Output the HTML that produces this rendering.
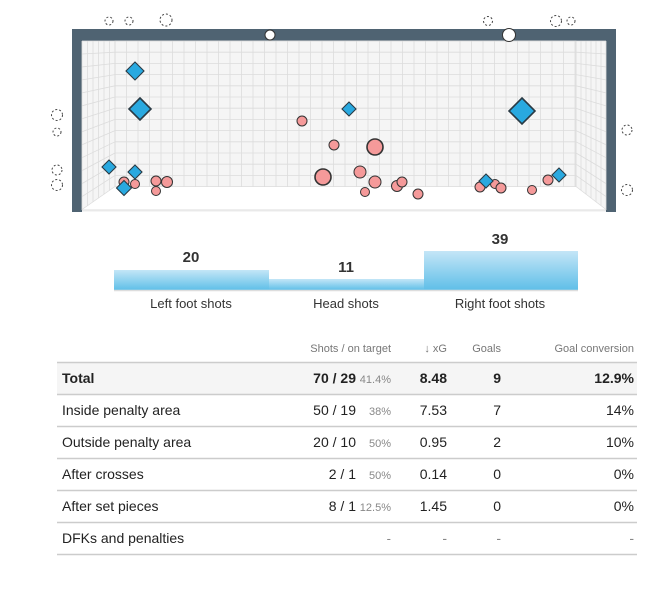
<!DOCTYPE html>
<html><head><meta charset="utf-8"><style>
html,body{margin:0;padding:0;background:#fff;width:670px;height:608px;overflow:hidden}
svg{display:block;font-family:"Liberation Sans",Arial,sans-serif}
</style></head><body>
<svg id="s" width="670" height="608" viewBox="0 0 670 608" xmlns="http://www.w3.org/2000/svg">
<defs>
<linearGradient id="bg" x1="0" y1="0" x2="0" y2="1">
<stop offset="0" stop-color="#c4e6f7"/><stop offset="1" stop-color="#5fbfe8"/>
</linearGradient>
</defs>
<!-- goal -->
<rect x="72" y="29" width="544" height="183" fill="#4f6372"/>
<rect x="82" y="41" width="524" height="171" fill="#f5f5f5"/>
<g id="grid" stroke="#dcdcdc" stroke-width="0.8" fill="none"></g>
<polygon points="115,187 576,187 606,210 82,210" fill="#fff"/>
<line x1="82" y1="210" x2="606" y2="210" stroke="#ddd" stroke-width="1"/>
<g id="marks"></g>
<!-- bars -->
<rect x="114" y="270" width="155" height="20" fill="url(#bg)"/>
<rect x="269" y="279" width="155" height="11" fill="url(#bg)"/>
<rect x="424" y="251" width="154" height="39" fill="url(#bg)"/>
<line x1="114" y1="290.5" x2="578" y2="290.5" stroke="#ddd" stroke-width="1.5"/>
<g font-size="15" font-weight="bold" fill="#333" text-anchor="middle">
<text x="191" y="262">20</text><text x="346" y="272">11</text><text x="500" y="244">39</text>
</g>
<g font-size="13" fill="#333" text-anchor="middle">
<text x="191" y="308">Left foot shots</text><text x="346" y="308">Head shots</text><text x="500" y="308">Right foot shots</text>
</g>
<!-- table -->
<rect x="57" y="363" width="580" height="31" fill="#f5f5f5"/>
<g font-size="11" fill="#777" text-anchor="end">
<text x="391" y="352">Shots / on target</text><text x="447" y="352">↓ xG</text><text x="501" y="352">Goals</text><text x="634" y="352">Goal conversion</text>
</g>
<g id="tbl"></g>
</svg>
<script>
const NS="http://www.w3.org/2000/svg";
function el(p,t,a,txt){const e=document.createElementNS(NS,t);for(const k in a)e.setAttribute(k,a[k]);if(txt!==undefined)e.textContent=txt;p.appendChild(e);return e;}
const g=document.getElementById('grid');
// back wall
for(let x=115;x<=576;x+=11.5)el(g,'line',{x1:x,y1:41,x2:x,y2:187});
for(let y=41;y<=187;y+=11.2)el(g,'line',{x1:115,y1:y,x2:576,y2:y});
el(g,'rect',{x:115,y:41,width:461,height:146});
// side walls
for(let i=0;i<=6;i++){const xl=82+i*33/6,xr=606-i*30/6;const yb=210-i*23/6;
el(g,'line',{x1:xl,y1:41,x2:xl,y2:yb});el(g,'line',{x1:xr,y1:41,x2:xr,y2:yb});}
for(let y=41;y<=187;y+=11.2){const f=(y-41)/146;el(g,'line',{x1:82,y1:y+f*23,x2:115,y2:y});el(g,'line',{x1:606,y1:y+f*23,x2:576,y2:y});}
const m=document.getElementById('marks');
// dashed misses
[[109,21,4],[129,21,4],[166,20,6],[488,21,4.5],[556,21,5.5],[571,21,4],[57,115,5.5],[57,132,4],[627,130,5],[57,170,5],[57,185,5.5],[627,190,5.5]].forEach(c=>el(m,'circle',{cx:c[0],cy:c[1],r:c[2],fill:'none',stroke:'#444','stroke-width':1,'stroke-dasharray':'2,2'}));
// post hits
el(m,'circle',{cx:270,cy:35,r:5,fill:'#fff',stroke:'#333','stroke-width':1});
el(m,'circle',{cx:509,cy:35,r:6.5,fill:'#fff',stroke:'#333','stroke-width':1});
// circles
[[302,121,5],[334,145,5],[375,147,8],[323,177,8],[360,172,6],[375,182,6],[365,192,4.5],[397,186,5.5],[402,182,5],[418,194,5],[124,182,5],[135,184,4.5],[156,181,5],[167,182,5.5],[156,191,4.5],[480,187,5],[495,184,4.5],[501,188,5],[532,190,4.5],[548,180,5]].forEach(c=>el(m,'circle',{cx:c[0],cy:c[1],r:c[2],fill:'#f59a9a',stroke:'#333','stroke-width':c[2]>7?1.6:1}));
// diamonds
[[135,71,9],[140,109,11],[349,109,7],[522,111,13],[109,167,7],[135,172,7],[124,188,7.5],[486,181,7],[559,175,7]].forEach(d=>{const [x,y,s]=d;el(m,'polygon',{points:`${x},${y-s} ${x+s},${y} ${x},${y+s} ${x-s},${y}`,fill:'#29a9e0',stroke:'#2a3a44','stroke-width':s>10?1.6:1.1});});
// table
const t=document.getElementById('tbl');
const rows=[["Total","70 / 29","41.4%","8.48","9","12.9%",1],["Inside penalty area","50 / 19","38%","7.53","7","14%"],["Outside penalty area","20 / 10","50%","0.95","2","10%"],["After crosses","2 / 1","50%","0.14","0","0%"],["After set pieces","8 / 1","12.5%","1.45","0","0%"],["DFKs and penalties","","","-","-","-"]];
el(t,'line',{x1:57,y1:362.5,x2:637,y2:362.5,stroke:'#ccc','stroke-width':1.5});
rows.forEach((r,i)=>{const y=383+i*32;const fw=r[6]?'bold':'normal';
el(t,'text',{x:62,y:y,'font-size':14,fill:'#222','font-weight':fw},r[0]);
if(r[1]){el(t,'text',{x:356,y:y,'font-size':14,fill:'#222','font-weight':fw,'text-anchor':'end'},r[1]);
el(t,'text',{x:391,y:y,'font-size':11,fill:'#888','text-anchor':'end'},r[2]);}
else el(t,'text',{x:391,y:y,'font-size':13,fill:'#888','text-anchor':'end'},'-');
const c=r[1]?'#222':'#888';
el(t,'text',{x:447,y:y,'font-size':14,fill:c,'font-weight':fw,'text-anchor':'end'},r[3]);
el(t,'text',{x:501,y:y,'font-size':14,fill:c,'font-weight':fw,'text-anchor':'end'},r[4]);
el(t,'text',{x:634,y:y,'font-size':14,fill:c,'font-weight':fw,'text-anchor':'end'},r[5]);
el(t,'line',{x1:57,y1:394.5+i*32,x2:637,y2:394.5+i*32,stroke:'#ccc','stroke-width':1.5});});
</script>
</body></html>
